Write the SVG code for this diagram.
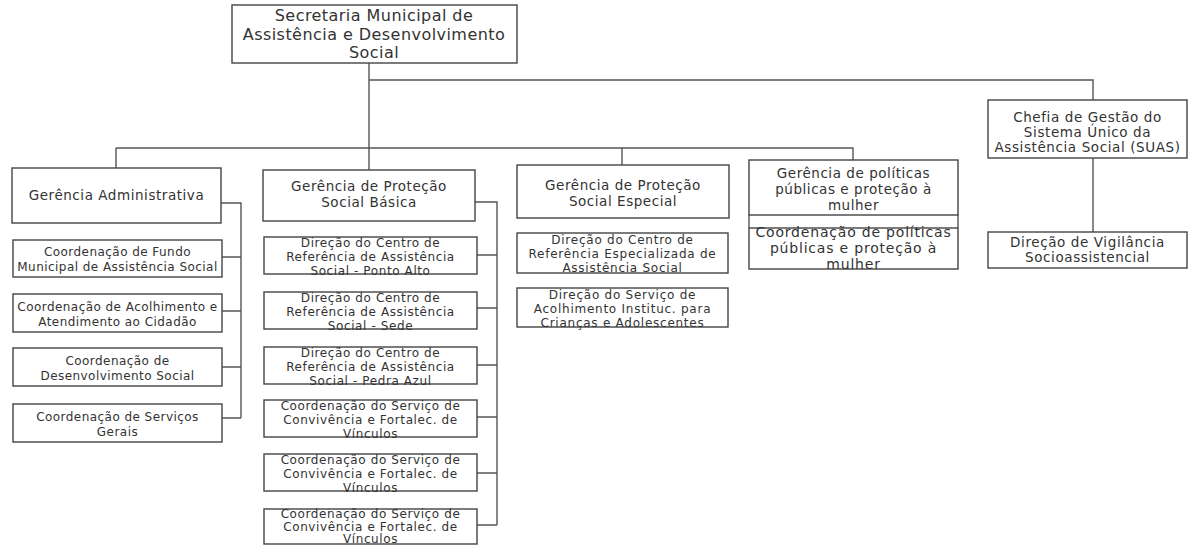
<svg xmlns="http://www.w3.org/2000/svg" width="1189" height="546" viewBox="0 0 1189 546">
<style>
.box{fill:#fff;stroke:#444;stroke-width:1.4}
.ln{fill:none;stroke:#555;stroke-width:1.4}
text{font-family:"DejaVu Sans","Liberation Sans",sans-serif;fill:#333;text-anchor:middle}
.top{font-size:16px;letter-spacing:0.45px}
.hd{font-size:13.5px;letter-spacing:0.55px}
.s1{font-size:12px;letter-spacing:0.45px}
.s2{font-size:12px;letter-spacing:0.6px}
.s3{font-size:12px;letter-spacing:0.75px}
.s4{font-size:14px;letter-spacing:0.8px}
.sv{font-size:13.5px;letter-spacing:0.6px}
</style>
<rect width="1189" height="546" fill="#fff"/>
<g id="connectors">
<path class="ln" d="M369,63 V170 M369,80 H1093 V100 M1093,158 V232 M116,148 H853 V160 M116,148 V168 M622,148 V165"/>
<path class="ln" d="M221,203 H241 V418 M222,257 H241 M222,311 H241 M222,367 H241 M222,418 H241"/>
<path class="ln" d="M475,202 H497 V525 M477,255 H497 M477,308 H497 M477,365 H497 M477,417 H497 M477,473 H497 M477,525 H497"/>
<path class="ln" d="M749,215 V228 M958,215 V228"/>
</g>
<g id="n-secretaria"><rect class="box" x="232" y="5" width="285" height="58"/>
<text class="top"><tspan x="374" y="21">Secretaria Municipal de</tspan><tspan x="374" y="40">Assistência e Desenvolvimento</tspan><tspan x="374" y="58">Social</tspan></text></g>
<g id="n-ger-adm"><rect class="box" x="12" y="168" width="209" height="55"/>
<text class="hd" x="116.5" y="200">Gerência Administrativa</text></g>
<g id="n-coord-fundo"><rect class="box" x="13" y="240" width="209" height="37"/>
<text class="s1"><tspan x="117.5" y="256">Coordenação de Fundo</tspan><tspan x="117.5" y="271">Municipal de Assistência Social</tspan></text></g>
<g id="n-coord-acolh"><rect class="box" x="13" y="294" width="209" height="38"/>
<text class="s1"><tspan x="117.5" y="311">Coordenação de Acolhimento e</tspan><tspan x="117.5" y="326">Atendimento ao Cidadão</tspan></text></g>
<g id="n-coord-desenv"><rect class="box" x="13" y="348" width="209" height="38"/>
<text class="s1"><tspan x="117.5" y="365">Coordenação de</tspan><tspan x="117.5" y="380">Desenvolvimento Social</tspan></text></g>
<g id="n-coord-serv"><rect class="box" x="13" y="404" width="209" height="38"/>
<text class="s1"><tspan x="117.5" y="421">Coordenação de Serviços</tspan><tspan x="117.5" y="436">Gerais</tspan></text></g>
<g id="n-ger-basica"><rect class="box" x="263" y="170" width="212" height="51"/>
<text class="hd"><tspan x="369" y="191">Gerência de Proteção</tspan><tspan x="369" y="207">Social Básica</tspan></text></g>
<g id="n-cras-ponto"><rect class="box" x="264" y="237" width="213" height="37"/>
<text class="s2"><tspan x="370.5" y="247">Direção do Centro de</tspan><tspan x="370.5" y="261">Referência de Assistência</tspan><tspan x="370.5" y="275">Social  - Ponto Alto</tspan></text></g>
<g id="n-cras-sede"><rect class="box" x="264" y="292" width="213" height="37"/>
<text class="s2"><tspan x="370.5" y="302">Direção do Centro de</tspan><tspan x="370.5" y="316">Referência de Assistência</tspan><tspan x="370.5" y="330">Social   - Sede</tspan></text></g>
<g id="n-cras-pedra"><rect class="box" x="264" y="347" width="213" height="37"/>
<text class="s2"><tspan x="370.5" y="357">Direção do Centro de</tspan><tspan x="370.5" y="371">Referência de Assistência</tspan><tspan x="370.5" y="385">Social - Pedra Azul</tspan></text></g>
<g id="n-scfv1"><rect class="box" x="264" y="400" width="213" height="37"/>
<text class="s2"><tspan x="370.5" y="410">Coordenação do Serviço de</tspan><tspan x="370.5" y="424">Convivência e Fortalec. de</tspan><tspan x="370.5" y="438">Vínculos</tspan></text></g>
<g id="n-scfv2"><rect class="box" x="264" y="454" width="213" height="37"/>
<text class="s2"><tspan x="370.5" y="464">Coordenação do Serviço de</tspan><tspan x="370.5" y="478">Convivência e Fortalec. de</tspan><tspan x="370.5" y="492">Vínculos</tspan></text></g>
<g id="n-scfv3"><rect class="box" x="264" y="509" width="213" height="35"/>
<text class="s2"><tspan x="370.5" y="518">Coordenação do Serviço de</tspan><tspan x="370.5" y="531">Convivência e Fortalec. de</tspan><tspan x="370.5" y="543">Vínculos</tspan></text></g>
<g id="n-ger-especial"><rect class="box" x="517" y="165" width="212" height="53"/>
<text class="hd"><tspan x="623" y="190">Gerência de Proteção</tspan><tspan x="623" y="206">Social Especial</tspan></text></g>
<g id="n-creas"><rect class="box" x="517" y="233" width="211" height="40"/>
<text class="s3"><tspan x="622.5" y="244">Direção do Centro de</tspan><tspan x="622.5" y="258">Referência Especializada de</tspan><tspan x="622.5" y="272">Assistência Social</tspan></text></g>
<g id="n-acolh-inst"><rect class="box" x="517" y="288" width="211" height="39"/>
<text class="s3"><tspan x="622.5" y="299">Direção do Serviço de</tspan><tspan x="622.5" y="313">Acolhimento Instituc. para</tspan><tspan x="622.5" y="327">Crianças e Adolescentes</tspan></text></g>
<g id="n-ger-mulher"><rect class="box" x="749" y="160" width="209" height="55"/>
<text class="hd"><tspan x="853.5" y="178">Gerência de políticas</tspan><tspan x="853.5" y="194">públicas e proteção à</tspan><tspan x="853.5" y="210">mulher</tspan></text></g>
<g id="n-coord-mulher"><rect class="box" x="749" y="228" width="209" height="41"/>
<text class="s4"><tspan x="853.5" y="237">Coordenação de políticas</tspan><tspan x="853.5" y="253">públicas e proteção à</tspan><tspan x="853.5" y="269">mulher</tspan></text></g>
<g id="n-chefia-suas"><rect class="box" x="988" y="100" width="199" height="58"/>
<text class="sv"><tspan x="1087.5" y="122">Chefia de Gestão do</tspan><tspan x="1087.5" y="137">Sistema Único da</tspan><tspan x="1087.5" y="152">Assistência Social (SUAS)</tspan></text></g>
<g id="n-vigilancia"><rect class="box" x="988" y="232" width="199" height="36"/>
<text class="sv"><tspan x="1087.5" y="247">Direção de Vigilância</tspan><tspan x="1087.5" y="262">Socioassistencial</tspan></text></g>
</svg>
